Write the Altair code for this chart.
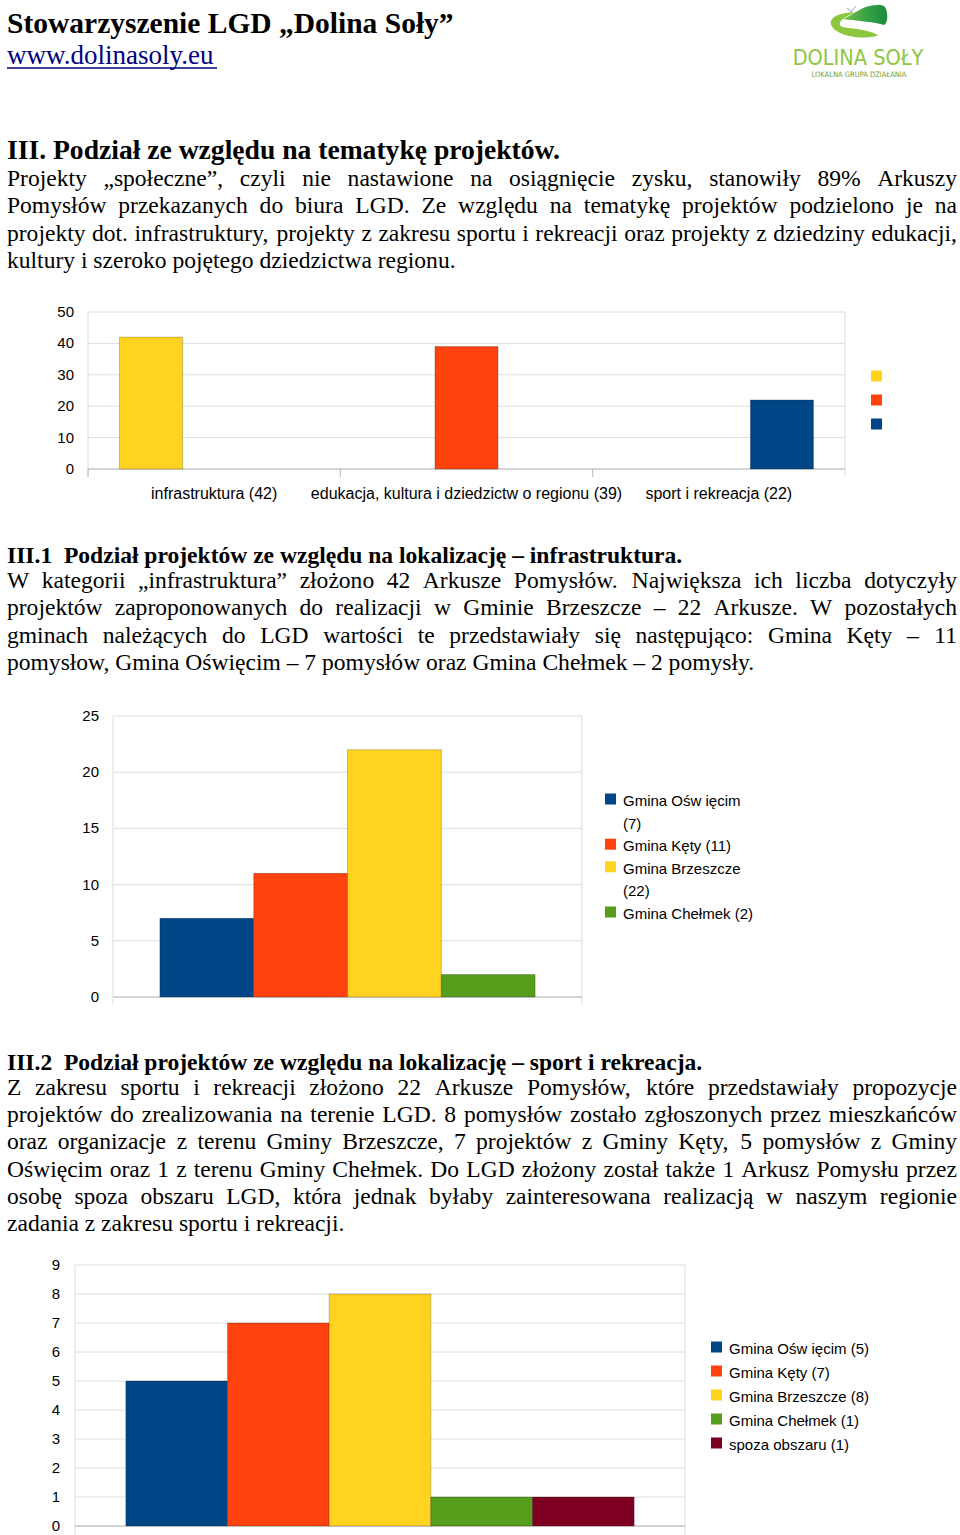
import base64
import altair as alt
import pandas as pd

# ------------------------------------------------------------------ data
header_title = "Stowarzyszenie LGD „Dolina Soły”"
header_url = "www.dolinasoly.eu"
logo_name = "DOLINA SOŁY"
logo_sub = "LOKALNA GRUPA DZIAŁANIA"

heading1 = "III. Podział ze względu na tematykę projektów."
para1 = [
    "Projekty „społeczne”, czyli nie nastawione na osiągnięcie zysku, stanowiły 89% Arkuszy",
    "Pomysłów przekazanych do biura LGD. Ze względu na tematykę projektów podzielono je na",
    "projekty dot. infrastruktury, projekty z zakresu sportu i rekreacji oraz projekty z dziedziny edukacji,",
    "kultury i szeroko pojętego dziedzictwa regionu.",
]
heading2 = "III.1\u00a0 Podział projektów ze względu na lokalizację – infrastruktura."
para2 = [
    "W kategorii „infrastruktura” złożono 42 Arkusze Pomysłów. Największa ich liczba dotyczyły",
    "projektów zaproponowanych do realizacji w Gminie Brzeszcze – 22 Arkusze. W pozostałych",
    "gminach należących do LGD wartości te przedstawiały się następująco: Gmina Kęty – 11",
    "pomysłow, Gmina Oświęcim – 7 pomysłów oraz Gmina Chełmek – 2 pomysły.",
]
heading3 = "III.2\u00a0 Podział projektów ze względu na lokalizację – sport i rekreacja."
para3 = [
    "Z zakresu sportu i rekreacji złożono 22 Arkusze Pomysłów, które przedstawiały propozycje",
    "projektów do zrealizowania na terenie LGD. 8 pomysłów zostało zgłoszonych przez mieszkańców",
    "oraz organizacje z terenu Gminy Brzeszcze, 7 projektów z Gminy Kęty, 5 pomysłów z Gminy",
    "Oświęcim oraz 1 z terenu Gminy Chełmek. Do LGD złożony został także 1 Arkusz Pomysłu przez",
    "osobę spoza obszaru LGD, która jednak byłaby zainteresowana realizacją w naszym regionie",
    "zadania z zakresu sportu i rekreacji.",
]

topic_labels = ["infrastruktura (42)", "edukacja, kultura i dziedzictw o regionu (39)", "sport i rekreacja (22)"]
topic_values = [42, 39, 22]
topic_ticks = [0, 10, 20, 30, 40, 50]

infra_series = ["Gmina Ośw ięcim (7)", "Gmina Kęty (11)", "Gmina Brzeszcze (22)", "Gmina Chełmek (2)"]
infra_values = [7, 11, 22, 2]
infra_ticks = [0, 5, 10, 15, 20, 25]
infra_legend = [["Gmina Ośw ięcim", "(7)"], ["Gmina Kęty (11)"], ["Gmina Brzeszcze", "(22)"], ["Gmina Chełmek (2)"]]

sport_series = ["Gmina Ośw ięcim (5)", "Gmina Kęty (7)", "Gmina Brzeszcze (8)", "Gmina Chełmek (1)", "spoza obszaru (1)"]
sport_values = [5, 7, 8, 1, 1]
sport_ticks = [0, 1, 2, 3, 4, 5, 6, 7, 8, 9]

# ------------------------------------------------------------------ styles
BLUE, RED, YEL, GRN, MAR = "#004586", "#ff420e", "#ffd320", "#579d1c", "#7e0021"
GRID, AXIS = "#dedede", "#b8b8b8"
SERIF = "Liberation Serif"
SANS = "Liberation Sans"
COND = "'DejaVu Sans Condensed', 'Liberation Sans Narrow', 'Liberation Sans', sans-serif"
ONE = pd.DataFrame({"k": [0]})
BAR_STYLE = dict(stroke="#000000", strokeOpacity=0.22, strokeWidth=1)

# Times-compatible advance widths (1/1000 em) used to justify the body text
REG = {" ": 250, "\u00a0": 250, ",": 250, ".": 250, ":": 278, ";": 278, "%": 833,
       "(": 333, ")": 333, "-": 333, "–": 500, "„": 444, "”": 444}
REG.update({d: 500 for d in "0123456789"})
REG.update(dict(A=722, B=667, C=667, D=722, E=611, F=556, G=722, H=722, I=333, J=389, K=722,
                L=611, M=889, N=722, O=722, P=556, Q=722, R=667, S=556, T=611, U=722, V=722,
                W=944, X=722, Y=722, Z=611))
REG.update(dict(a=444, b=500, c=444, d=500, e=444, f=333, g=500, h=500, i=278, j=278, k=500,
                l=278, m=778, n=500, o=500, p=500, q=500, r=333, s=389, t=278, u=500, v=500,
                w=722, x=500, y=500, z=444))
REG.update({"ą": 444, "ć": 444, "ę": 444, "ł": 278, "ń": 500, "ó": 500, "ś": 389, "ź": 444,
            "ż": 444, "Ś": 556, "Ł": 611, "Ż": 611, "Ó": 722})


def tw(s, size):
    return sum(REG.get(ch, 500) for ch in s) * size / 1000.0


BODY = 23.55
X0, X1 = 7, 957


def paragraph(lines, y0, lh):
    rows = []
    for i, line in enumerate(lines):
        y = y0 + i * lh
        if i == len(lines) - 1:
            rows.append(dict(t=line, px=X0, py=y, last=0))
            continue
        words = line.split(" ")
        widths = [tw(w, BODY) for w in words]
        gap = (X1 - X0 - sum(widths)) / (len(words) - 1)
        x = X0
        for j, (w, wd) in enumerate(zip(words, widths)):
            rows.append(dict(t=w, px=x, py=y, last=1 if j == len(words) - 1 else 0))
            x += wd + gap
    df = pd.DataFrame(rows)
    left = alt.Chart(df).transform_filter("datum.last == 0").mark_text(
        align="left", baseline="alphabetic", font=SERIF, fontSize=BODY, color="#000"
    ).encode(x=alt.X("px:Q", scale=None), y=alt.Y("py:Q", scale=None), text="t:N")
    right = alt.Chart(df).transform_filter("datum.last == 1").mark_text(
        align="right", baseline="alphabetic", font=SERIF, fontSize=BODY, color="#000"
    ).encode(x=alt.value(X1), y=alt.Y("py:Q", scale=None), text="t:N")
    return [left, right]


def line_text(txt, x, y, size, bold=False, font=SERIF, color="#000", align="left"):
    return alt.Chart(pd.DataFrame({"t": [txt]})).mark_text(
        align=align, baseline="alphabetic", font=font, fontSize=size,
        fontWeight="bold" if bold else "normal", color=color
    ).encode(x=alt.value(x), y=alt.value(y), text="t:N")


def rule(x, x2, y, y2, color, w=1):
    return alt.Chart(ONE).mark_rule(color=color, strokeWidth=w).encode(
        x=alt.value(x), x2=alt.value(x2), y=alt.value(y), y2=alt.value(y2))


def y_parts(ticks, yscale, left, right, label_x):
    tdf = pd.DataFrame({"tick": ticks})
    grid = alt.Chart(tdf).mark_rule(color=GRID).encode(
        y=alt.Y("tick:Q", scale=yscale, axis=None), x=alt.value(left), x2=alt.value(right))
    labels = alt.Chart(tdf).mark_text(align="right", baseline="middle", font=SANS, fontSize=15,
                                      color="#000").encode(
        y=alt.Y("tick:Q", scale=yscale, axis=None), x=alt.value(label_x), text="tick:Q")
    zero = alt.Chart(pd.DataFrame({"tick": [0]})).mark_rule(color=AXIS).encode(
        y=alt.Y("tick:Q", scale=yscale, axis=None), x=alt.value(left), x2=alt.value(right))
    return grid, labels, zero


# ------------------------------------------------------------------ chart 1
t_df = pd.DataFrame({"cat": topic_labels, "series": topic_labels, "value": topic_values})
x1 = alt.Scale(domain=topic_labels, range=[88, 845], paddingInner=0, paddingOuter=0)
y1 = alt.Scale(domain=[0, 50], range=[469, 312])
c1 = alt.Scale(domain=topic_labels, range=[YEL, RED, BLUE])
g1, l1, z1 = y_parts(topic_ticks, y1, 88, 845, 74)
bars1 = alt.Chart(t_df).mark_bar(**BAR_STYLE).encode(
    x=alt.X("cat:N", scale=x1, axis=None),
    xOffset=alt.XOffset("series:N", scale=alt.Scale(domain=topic_labels, paddingInner=0, paddingOuter=0.5)),
    y=alt.Y("value:Q", scale=y1, axis=None),
    color=alt.Color("series:N", scale=c1, legend=None))
ticks1 = alt.Chart(t_df).mark_rule(color=AXIS).encode(
    x=alt.X("cat:N", scale=x1, axis=None, bandPosition=0), y=alt.value(469), y2=alt.value(477))
cat1 = alt.Chart(t_df).mark_text(font=SANS, fontSize=16, baseline="middle", color="#000").encode(
    x=alt.X("cat:N", scale=x1, axis=None), y=alt.value(494), text="cat:N")
leg1 = alt.Chart(pd.DataFrame({"series": topic_labels, "i": [0, 1, 2]})).transform_calculate(
    py="376 + datum.i * 24").mark_square(size=121, opacity=1).encode(
    x=alt.value(876.5), y=alt.Y("py:Q", scale=None),
    color=alt.Color("series:N", scale=c1, legend=None))
panel1 = [g1, rule(88, 88, 312, 477, GRID), rule(845, 845, 312, 477, GRID),
          z1, bars1, ticks1, l1, cat1, leg1]

# ------------------------------------------------------------------ chart 2
i_df = pd.DataFrame({"series": infra_series, "value": infra_values})
x2s = alt.Scale(domain=infra_series, range=[113, 582], paddingInner=0, paddingOuter=0.5)
y2s = alt.Scale(domain=[0, 25], range=[997, 716])
c2 = alt.Scale(domain=infra_series, range=[BLUE, RED, YEL, GRN])
g2, l2, z2 = y_parts(infra_ticks, y2s, 113, 582, 99)
bars2 = alt.Chart(i_df).mark_bar(**BAR_STYLE).encode(
    x=alt.X("series:N", scale=x2s, axis=None),
    y=alt.Y("value:Q", scale=y2s, axis=None),
    color=alt.Color("series:N", scale=c2, legend=None))

rows2, sq2, k = [], [], 0
for e, lines in enumerate(infra_legend):
    sq2.append(dict(series=infra_series[e], k=k))
    for ln in lines:
        rows2.append(dict(t=ln, k=k))
        k += 1
leg2_txt = alt.Chart(pd.DataFrame(rows2)).transform_calculate(py="801 + datum.k * 22.6").mark_text(
    align="left", baseline="middle", font=SANS, fontSize=15, color="#000").encode(
    x=alt.value(623), y=alt.Y("py:Q", scale=None), text="t:N")
leg2_sq = alt.Chart(pd.DataFrame(sq2)).transform_calculate(py="799 + datum.k * 22.6").mark_square(
    size=121, opacity=1).encode(x=alt.value(610.5), y=alt.Y("py:Q", scale=None),
                                color=alt.Color("series:N", scale=c2, legend=None))
panel2 = [g2, rule(113, 113, 716, 1005, GRID), rule(582, 582, 716, 1005, GRID), z2, bars2, l2,
          leg2_sq, leg2_txt]

# ------------------------------------------------------------------ chart 3
s_df = pd.DataFrame({"series": sport_series, "value": sport_values, "i": list(range(len(sport_series)))})
x3s = alt.Scale(domain=sport_series, range=[75, 685], paddingInner=0, paddingOuter=0.5)
y3s = alt.Scale(domain=[0, 9], range=[1526, 1265])
c3 = alt.Scale(domain=sport_series, range=[BLUE, RED, YEL, GRN, MAR])
g3, l3, z3 = y_parts(sport_ticks, y3s, 75, 685, 60)
bars3 = alt.Chart(s_df).mark_bar(**BAR_STYLE).encode(
    x=alt.X("series:N", scale=x3s, axis=None),
    y=alt.Y("value:Q", scale=y3s, axis=None),
    color=alt.Color("series:N", scale=c3, legend=None))
leg3_txt = alt.Chart(s_df).transform_calculate(py="1349 + datum.i * 24").mark_text(
    align="left", baseline="middle", font=SANS, fontSize=15, color="#000").encode(
    x=alt.value(729), y=alt.Y("py:Q", scale=None), text="series:N")
leg3_sq = alt.Chart(s_df).transform_calculate(py="1347 + datum.i * 24").mark_square(
    size=121, opacity=1).encode(x=alt.value(716.5), y=alt.Y("py:Q", scale=None),
                                color=alt.Color("series:N", scale=c3, legend=None))
panel3 = [g3, rule(75, 75, 1265, 1535, GRID), rule(685, 685, 1265, 1535, GRID), z3, bars3, l3,
          leg3_sq, leg3_txt]

# ------------------------------------------------------------------ logo (graphic as inline SVG image)
logo_svg = (
    '<svg xmlns="http://www.w3.org/2000/svg" width="64" height="40" viewBox="0 0 64 40">'
    '<defs><linearGradient id="g" x1="0" y1="0" x2="1" y2="0">'
    '<stop offset="0" stop-color="#79c24a"/><stop offset="0.55" stop-color="#35a046"/>'
    '<stop offset="1" stop-color="#1f8c3c"/></linearGradient></defs>'
    '<path d="M 27 10 C 17 11 7 13 5 19 C 3 26 14 34 34 35.5 C 44 36 50 34.5 52 33 '
    'C 42 28 30 26.5 19 25.5 C 12 24.8 10 18 27 11.5 Z" fill="#8dc63f"/>'
    '<path d="M 17 17 C 29 12 37 3 51 3 C 58 2 61 6 61 12 C 62 18 60 22 58 23 '
    'C 49 20 32 19 17 17 Z" fill="url(#g)"/>'
    '<path d="M 21 6 L 25 9.5 L 30 4" fill="none" stroke="#a9bccd" stroke-width="1.1"/>'
    '</svg>'
)
logo_uri = "data:image/svg+xml;base64," + base64.b64encode(logo_svg.encode("utf-8")).decode("ascii")
logo = [
    alt.Chart(pd.DataFrame({"u": [logo_uri]})).mark_image(
        width=64, height=40, align="left", baseline="top").encode(
        x=alt.value(826), y=alt.value(2), url="u:N"),
    line_text(logo_name, 858, 65, 21.5, font=COND, color="#8dc63f", align="center"),
    line_text(logo_sub, 859, 77, 7.5, font=COND, color="#6f9e3c", align="center"),
]

# ------------------------------------------------------------------ page
texts = [
    line_text(header_title, 7, 33, 29.5, bold=True),
    line_text(header_url, 7, 64, 27, color="#000080"),
    rule(7, 217, 68, 68, "#000080", 1.5),
    line_text(heading1, 7, 159, 27.6, bold=True),
    *paragraph(para1, 186, 27.3),
    line_text(heading2, 7, 563, BODY, bold=True),
    *paragraph(para2, 588, 27.3),
    line_text(heading3, 7, 1070, BODY, bold=True),
    *paragraph(para3, 1095, 27.2),
]

chart = alt.layer(*texts, *logo, *panel1, *panel2, *panel3).resolve_scale(
    x="independent", y="independent", color="independent", xOffset="independent"
).properties(
    width=960, height=1535, autosize=alt.AutoSizeParams(type="none"), padding=0, background="white"
).configure_view(stroke=None)

chart.save("out.html", embed_options={"renderer": "svg", "actions": False})
